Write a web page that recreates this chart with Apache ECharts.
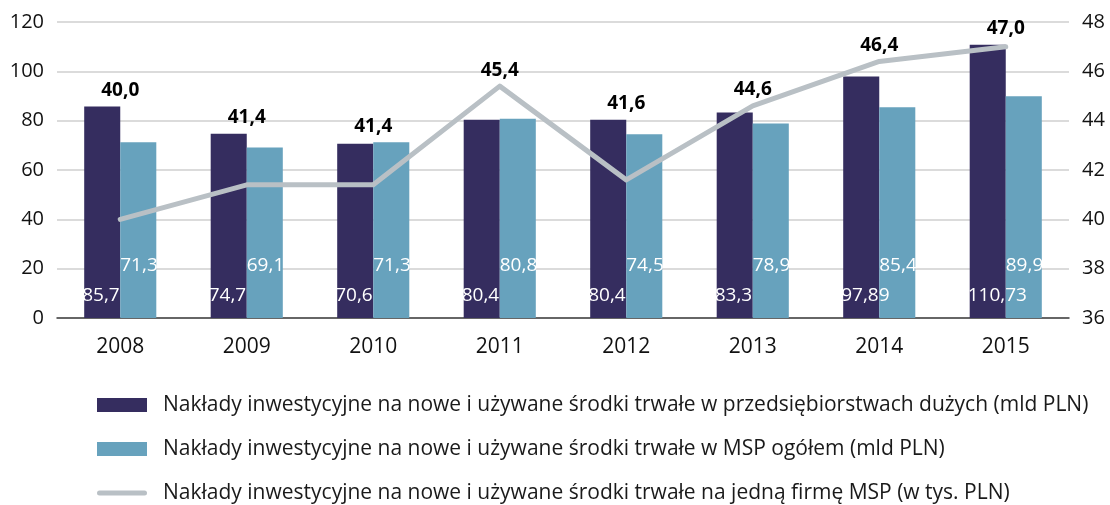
<!DOCTYPE html>
<html>
<head>
<meta charset="utf-8">
<script src="https://cdn.jsdelivr.net/npm/echarts@6/dist/echarts.min.js"></script>
<style>
  html, body { margin: 0; padding: 0; background: #fff; }
  #main { width: 1110px; height: 505px; }
</style>
</head>
<body>
<div id="main"></div>
<script>
// data
var years = ["2008", "2009", "2010", "2011", "2012", "2013", "2014", "2015"];
var duze = [85.7, 74.7, 70.6, 80.4, 80.4, 83.3, 97.89, 110.73];
var msp = [71.3, 69.1, 71.3, 80.8, 74.5, 78.9, 85.4, 89.9];
var naFirme = [40.0, 41.4, 41.4, 45.4, 41.6, 44.6, 46.4, 47.0];
var leftTicks = [0, 120, 20];
var rightTicks = [36, 48, 2];

var names = [
    "Nakłady inwestycyjne na nowe i używane środki trwałe w przedsiębiorstwach dużych (mld PLN)",
    "Nakłady inwestycyjne na nowe i używane środki trwałe w MSP ogółem (mld PLN)",
    "Nakłady inwestycyjne na nowe i używane środki trwałe na jedną firmę MSP (w tys. PLN)"
];

var FONT = "Open Sans";
var comma = function (v, d) {
    return (d == null ? String(v) : v.toFixed(d)).replace(".", ",");
};

var chart = echarts.init(document.getElementById("main"));
var option = {
    animation: false,
    textStyle: { fontFamily: FONT },
    grid: { left: 57, right: 41, top: 22, bottom: 187 },
    legend: {
        orient: "vertical",
        left: 97,
        top: 394,
        padding: 0,
        itemWidth: 50,
        itemHeight: 14,
        itemGap: 22,
        textStyle: { fontFamily: FONT, fontSize: 21, color: "#1a1a1a", lineHeight: 22, padding: [0, 0, 0, 11] },
        data: [
            { name: names[0], icon: "rect" },
            { name: names[1], icon: "rect" },
            { name: names[2], icon: "path://M2.5,0 H47.5 A2.5,2.5 0 0 1 47.5,5 H2.5 A2.5,2.5 0 0 1 2.5,0 Z" }
        ]
    },
    xAxis: {
        type: "category",
        data: years,
        axisTick: { show: false },
        axisLine: { lineStyle: { color: "#404040", width: 1.5 } },
        axisLabel: { fontFamily: FONT, fontSize: 21, color: "#111", margin: 19 }
    },
    yAxis: [
        {
            type: "value",
            min: leftTicks[0], max: leftTicks[1], interval: leftTicks[2],
            axisLine: { show: false },
            axisTick: { show: false },
            splitLine: { lineStyle: { color: "#cfcfcf", width: 1.5 } },
            axisLabel: { fontFamily: FONT, fontSize: 20, color: "#111", margin: 13 }
        },
        {
            type: "value",
            min: rightTicks[0], max: rightTicks[1], interval: rightTicks[2],
            axisLine: { show: false },
            axisTick: { show: false },
            splitLine: { show: false },
            axisLabel: { fontFamily: FONT, fontSize: 20, color: "#111", margin: 13 }
        }
    ],
    series: [
        {
            name: names[0],
            type: "bar",
            data: duze,
            barWidth: "28.5%",
            barGap: "0%",
            itemStyle: { color: "#352d5f" },
            label: {
                show: true,
                position: "insideBottomLeft",
                distance: 0,
                offset: [-2, -13],
                color: "#fff",
                fontFamily: FONT,
                fontSize: 19,
                formatter: function (p) { return comma(p.value); }
            }
        },
        {
            name: names[1],
            type: "bar",
            data: msp,
            barWidth: "28.5%",
            itemStyle: { color: "#67a2bd" },
            label: {
                show: true,
                position: "insideBottomLeft",
                distance: 0,
                offset: [0, -43],
                color: "#fff",
                fontFamily: FONT,
                fontSize: 19,
                formatter: function (p) { return comma(p.value, 1); }
            }
        },
        {
            name: names[2],
            type: "line",
            yAxisIndex: 1,
            data: naFirme,
            symbol: "circle",
            symbolSize: 1,
            showSymbol: true,
            lineStyle: { color: "#b9c0c5", width: 5, cap: "round", join: "round" },
            itemStyle: { color: "#b9c0c5" },
            z: 5
        }
    ]
};
chart.setOption(option);

// place the line labels above whichever is higher: the point or the taller bar
var labelSeries = naFirme.map(function (v, i) {
    var yLine = chart.convertToPixel({ yAxisIndex: 1 }, v);
    var yBar = chart.convertToPixel({ yAxisIndex: 0 }, Math.max(duze[i], msp[i]));
    var lift = Math.min(0, yBar - yLine);
    return {
        value: v,
        label: { offset: [0, lift] }
    };
});
chart.setOption({
    series: [{}, {}, {
        data: labelSeries,
        label: {
            show: true,
            position: "top",
            distance: 6,
            color: "#000",
            fontFamily: FONT,
            fontWeight: "bold",
            fontSize: 19,
            formatter: function (p) { return comma(p.value, 1); }
        }
    }]
});
</script>
</body>
</html>
